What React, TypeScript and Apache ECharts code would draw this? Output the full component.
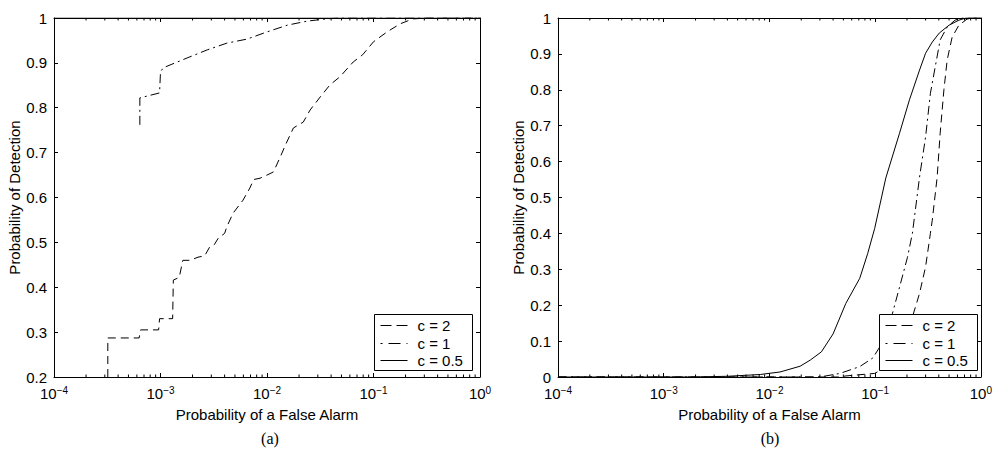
import React, { useEffect, useRef } from "react";
import * as echarts from "echarts";

// ---- Data ----
const seriesNames = ["c = 2", "c = 1", "c = 0.5"];

// Panel (a)
const a_c2: [number, number][] = [
  [3.2e-4, 0.2], [3.2e-4, 0.287], [6.3e-4, 0.287], [6.5e-4, 0.305], [9.6e-4, 0.305],
  [9.8e-4, 0.33], [1.3e-3, 0.33], [1.32e-3, 0.416], [1.5e-3, 0.422], [1.62e-3, 0.46],
  [1.9e-3, 0.46], [2.25e-3, 0.467], [2.6e-3, 0.47], [2.9e-3, 0.49], [3.2e-3, 0.495],
  [3.5e-3, 0.51], [4.0e-3, 0.52], [4.2e-3, 0.535], [4.8e-3, 0.565], [5.95e-3, 0.594],
  [6.9e-3, 0.621], [7.5e-3, 0.64], [8.6e-3, 0.643], [1.0e-2, 0.65], [1.15e-2, 0.657],
  [1.33e-2, 0.69], [1.51e-2, 0.72], [1.77e-2, 0.755], [2.19e-2, 0.768], [2.54e-2, 0.795],
  [3.16e-2, 0.824], [3.9e-2, 0.851], [4.84e-2, 0.869], [6.45e-2, 0.902], [7.9e-2, 0.918],
  [0.1, 0.947], [0.134, 0.969], [0.178, 0.987], [0.234, 0.998], [0.33, 1], [1, 1],
];
const a_c1: [number, number][] = [
  [6.4e-4, 0.762], [6.4e-4, 0.822], [9.8e-4, 0.833], [1.0e-3, 0.88], [1.06e-3, 0.889],
  [1.78e-3, 0.911], [2.75e-3, 0.929], [4.2e-3, 0.944], [6.5e-3, 0.953], [1.0e-2, 0.969],
  [1.55e-2, 0.984], [2.37e-2, 0.993], [3.6e-2, 0.998], [4.5e-2, 1], [1, 1],
];
const a_c05: [number, number][] = [[1e-4, 1], [1, 1]];

// Panel (b)
const b_c2: [number, number][] = [
  [1e-4, 0], [0.045, 0], [0.053, 0.003], [0.099, 0.01], [0.137, 0.033], [0.182, 0.083],
  [0.225, 0.167], [0.263, 0.233], [0.3, 0.307], [0.333, 0.4], [0.347, 0.437],
  [0.386, 0.557], [0.412, 0.679], [0.447, 0.8], [0.48, 0.883], [0.535, 0.947],
  [0.62, 0.98], [0.74, 0.997], [0.85, 1], [1, 1],
];
const b_c1: [number, number][] = [
  [1e-4, 0], [0.03, 0], [0.0465, 0.01], [0.0715, 0.029], [0.095, 0.053], [0.117, 0.095],
  [0.146, 0.178], [0.17, 0.25], [0.202, 0.333], [0.225, 0.4], [0.263, 0.557],
  [0.3, 0.669], [0.333, 0.79], [0.37, 0.864], [0.412, 0.939], [0.48, 0.975],
  [0.57, 0.994], [0.65, 1], [1, 1],
];
const b_c05: [number, number][] = [
  [1e-4, 0], [1.9e-3, 0], [4e-3, 0.002], [8.2e-3, 0.007], [0.0126, 0.014], [0.0195, 0.03],
  [0.0243, 0.047], [0.031, 0.07], [0.04, 0.12], [0.0528, 0.205], [0.0715, 0.275],
  [0.085, 0.344], [0.099, 0.414], [0.126, 0.554], [0.17, 0.679], [0.211, 0.772],
  [0.263, 0.855], [0.3, 0.902], [0.347, 0.933], [0.404, 0.958], [0.5, 0.98],
  [0.62, 0.994], [0.72, 1], [1, 1],
];

const xMin = 1e-4;
const xMax = 1;
const yRangeA = [0.2, 1];
const yRangeB = [0, 1];
const panelLabels = ["(a)", "(b)"];

// minor log ticks (2..9 x each decade)
const minorTicks: number[] = [];
for (let d = -4; d < 0; d++) {
  for (let k = 2; k < 10; k++) minorTicks.push(k * Math.pow(10, d));
}

const FONT = '"Liberation Sans", Arial, Helvetica, sans-serif';
const SERIF = '"Liberation Serif", "Times New Roman", serif';
const dashStyles: any[] = [[8, 5], [9, 4, 2, 4], "solid"];
const legendDash: any[] = [[11, 5], [2, 6, 12, 6], null];

function App() {
  const ref = useRef<HTMLDivElement>(null);
  useEffect(() => {
    if (!ref.current) return;
    const chart = echarts.init(ref.current, null, { renderer: "svg" });

    const grids = [
      { left: 54, top: 18, width: 426, height: 359 },
      { left: 558, top: 18, width: 426, height: 359 },
    ];
    const yRanges = [yRangeA, yRangeB];

    const xAxes: any[] = [];
    const yAxes: any[] = [];
    grids.forEach((g, i) => {
      const common = {
        type: "log",
        logBase: 10,
        min: xMin,
        max: xMax,
        gridIndex: i,
        splitLine: { show: false },
        axisLine: { show: true, onZero: false, lineStyle: { color: "#000", width: 1 } },
        axisTick: { show: true, inside: true, length: 4, lineStyle: { color: "#000" } },
      };
      xAxes.push({
        ...common,
        position: "bottom",
        name: "Probability of a False Alarm",
        nameLocation: "middle",
        nameGap: 30,
        nameTextStyle: { fontFamily: FONT, fontSize: 15, color: "#000" },
        axisLabel: {
          show: true,
          margin: 9,
          formatter: (v: number) => {
            const e = Math.round(Math.log10(v));
            const s = e < 0 ? "\u2212" + Math.abs(e) : String(e);
            return "{b|10}{s|" + s + "}";
          },
          rich: {
            b: { fontFamily: FONT, fontSize: 15, color: "#000", lineHeight: 15, verticalAlign: "bottom" },
            s: { fontFamily: FONT, fontSize: 10, color: "#000", lineHeight: 10, padding: [0, 0, 6, 0], verticalAlign: "bottom" },
          },
        },
      });
      xAxes.push({ ...common, position: "top", axisLabel: { show: false } });

      const ycommon = {
        type: "value",
        min: yRanges[i][0],
        max: yRanges[i][1],
        interval: 0.1,
        gridIndex: i,
        splitLine: { show: false },
        axisLine: { show: true, onZero: false, lineStyle: { color: "#000", width: 1 } },
        axisTick: { show: true, inside: true, length: 4, lineStyle: { color: "#000" } },
      };
      yAxes.push({
        ...ycommon,
        position: "left",
        name: "Probability of Detection",
        nameLocation: "middle",
        nameGap: 32,
        nameTextStyle: { fontFamily: FONT, fontSize: 15, color: "#000" },
        axisLabel: {
          show: true,
          margin: 7,
          fontFamily: FONT,
          fontSize: 15,
          color: "#000",
          formatter: (v: number) => String(Math.round(v * 10) / 10),
        },
      });
      yAxes.push({ ...ycommon, position: "right", axisLabel: { show: false } });
    });

    const panelData = [
      [a_c2, a_c1, a_c05],
      [b_c2, b_c1, b_c05],
    ];

    const series: any[] = [];
    panelData.forEach((sets, i) => {
      sets.forEach((d, j) => {
        series.push({
          name: seriesNames[j],
          type: "line",
          xAxisIndex: i * 2,
          yAxisIndex: i * 2,
          data: d,
          showSymbol: false,
          symbol: "none",
          lineStyle: { color: "#000", width: 1, type: dashStyles[j] },
          itemStyle: { color: "#000" },
          z: 2,
        });
      });
      const yr = yRanges[i];
      series.push({
        type: "custom",
        name: "minorTicks" + i,
        xAxisIndex: i * 2,
        yAxisIndex: i * 2,
        silent: true,
        data: minorTicks.map((v) => [v, yr[0]]),
        encode: { x: 0, y: 1 },
        renderItem: (_p: any, api: any) => {
          const x = api.value(0);
          const b = api.coord([x, yr[0]]);
          const t = api.coord([x, yr[1]]);
          return {
            type: "group",
            children: [
              { type: "line", shape: { x1: b[0], y1: b[1], x2: b[0], y2: b[1] - 2.5 }, style: { stroke: "#000", lineWidth: 1 } },
              { type: "line", shape: { x1: t[0], y1: t[1], x2: t[0], y2: t[1] + 2.5 }, style: { stroke: "#000", lineWidth: 1 } },
            ],
          };
        },
        z: 3,
      });
    });

    // Legend boxes drawn as graphics (MATLAB-style), opaque, above the curves
    const legendLefts = [374, 879];
    const legendTop = 314;
    const rowYs = [325, 343, 360];
    const graphics: any[] = [];
    legendLefts.forEach((lx) => {
      const ox = lx + 0.5;
      const oy = legendTop + 0.5;
      graphics.push({
        type: "rect",
        z: 100,
        shape: { x: ox, y: oy, width: 98, height: 56 },
        style: { fill: "#fff", stroke: "#000", lineWidth: 1 },
      });
      seriesNames.forEach((nm, j) => {
        const y = rowYs[j] + 0.5;
        const ls: any = { stroke: "#000", lineWidth: 1 };
        if (legendDash[j]) ls.lineDash = legendDash[j];
        graphics.push({ type: "line", z: 101, shape: { x1: ox + 6, y1: y, x2: ox + 33, y2: y }, style: ls });
        graphics.push({
          type: "text",
          z: 101,
          style: { text: nm, x: ox + 43, y, textVerticalAlign: "middle", textAlign: "left", fontFamily: FONT, fontSize: 15, fill: "#000" },
        });
      });
    });
    graphics.push({
      type: "text",
      z: 100,
      style: { text: panelLabels[0], x: 270, y: 438, textAlign: "center", textVerticalAlign: "middle", fontFamily: SERIF, fontSize: 16, fill: "#000" },
    });
    graphics.push({
      type: "text",
      z: 100,
      style: { text: panelLabels[1], x: 770, y: 438, textAlign: "center", textVerticalAlign: "middle", fontFamily: SERIF, fontSize: 16, fill: "#000" },
    });

    chart.setOption({
      animation: false,
      backgroundColor: "#fff",
      grid: grids.map((g) => ({ ...g, containLabel: false })),
      xAxis: xAxes,
      yAxis: yAxes,
      series,
      graphic: { elements: graphics },
    });

    return () => chart.dispose();
  }, []);

  return (
    <div
      ref={ref}
      style={{ position: "absolute", left: 0, top: 0, width: 995, height: 457, background: "#fff" }}
    />
  );
}

export default App;
